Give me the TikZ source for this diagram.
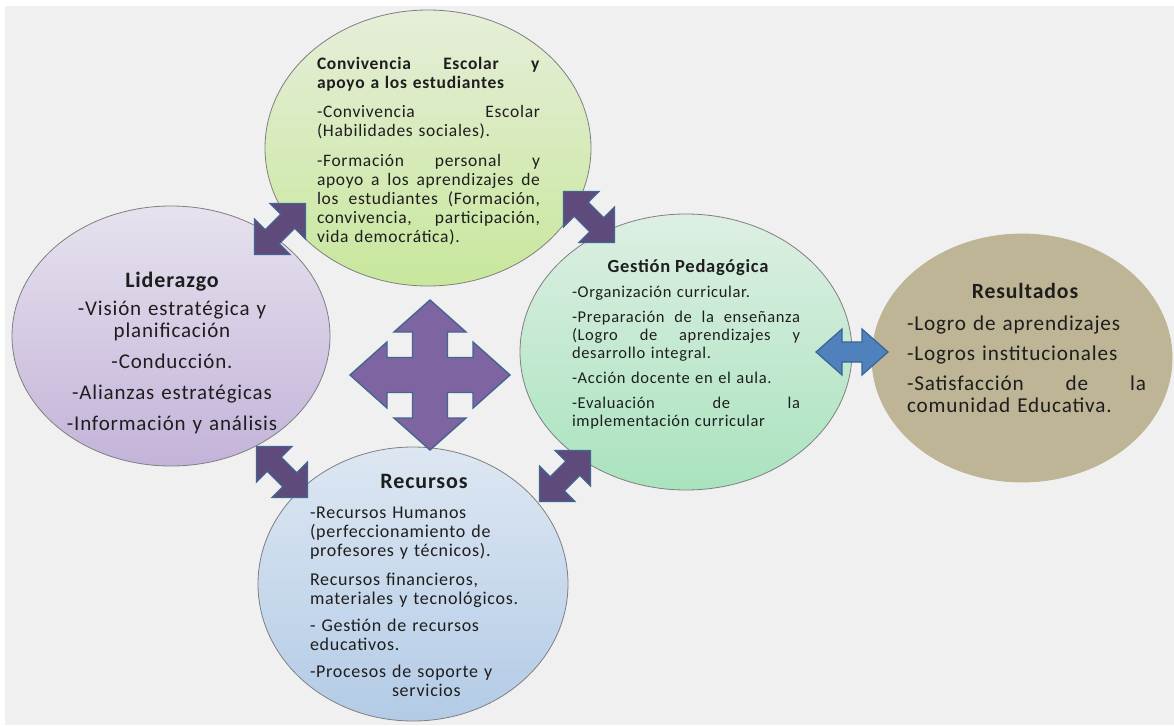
\documentclass[tikz,border=0pt]{standalone}
\usepackage{fontspec}
\setmainfont{Carlito}
\newfontfamily\wfont[LetterSpace=4]{Carlito}
\usetikzlibrary{shapes.geometric}
\definecolor{bgc}{HTML}{F0F0F0}
\definecolor{txtc}{HTML}{1E1E1E}
\definecolor{circline}{HTML}{7F7F7F}
\definecolor{convtop}{HTML}{E6EED9}
\definecolor{convbot}{HTML}{C8E79C}
\definecolor{lidtop}{HTML}{E7E2EE}
\definecolor{lidbot}{HTML}{C3B3D9}
\definecolor{gesttop}{HTML}{DDEFE3}
\definecolor{gestbot}{HTML}{A9E3BE}
\definecolor{rectop}{HTML}{DDE7F2}
\definecolor{recbot}{HTML}{B3CBE6}
\definecolor{resfill}{HTML}{BDB595}
\definecolor{crossfill}{HTML}{7E64A0}
\definecolor{diagfill}{HTML}{5F4A7C}
\definecolor{arrline}{HTML}{41668F}
\definecolor{bluefill}{HTML}{4F81BD}
\definecolor{blueline}{HTML}{3A6394}
\tikzset{
  circ/.style={ellipse, draw=circline, line width=0.8pt, inner sep=0pt, outer sep=0pt},
  txt/.style={text=txtc, inner sep=0pt, outer sep=0pt},
  titletxt/.style={txt, font=\wfont\bfseries\fontsize{#1}{#1}\selectfont},
  diagarrow/.pic={
    \filldraw[fill=diagfill, draw=arrline, line width=1.2pt, line join=miter]
      (-36,0) -- (-11,25) -- (-11,10) -- (11,10) -- (11,25) -- (36,0)
      -- (11,-25) -- (11,-10) -- (-11,-10) -- (-11,-25) -- cycle;
  }
}
\begin{document}
\begin{tikzpicture}[x=1pt,y=-1pt]
\fill[white] (0,0) rectangle (1174,725);
\useasboundingbox (0,0) rectangle (1174,725);
\fill[bgc] (5,6) rectangle (1174,725);

% circles
\node[circ, minimum width=326pt, minimum height=276pt, top color=convtop, bottom color=convbot] (conv) at (428,148) {};
\node[circ, minimum width=318pt, minimum height=260pt, top color=lidtop, bottom color=lidbot] (lid) at (171,336) {};
\node[circ, minimum width=332pt, minimum height=276pt, top color=gesttop, bottom color=gestbot] (gest) at (686,352) {};
\node[circ, minimum width=300pt, minimum height=248pt, fill=resfill, draw=resfill] (res) at (1022,358) {};
\node[circ, minimum width=310pt, minimum height=274pt, top color=rectop, bottom color=recbot] (rec) at (413,584) {};

% central four-way arrow
\filldraw[fill=crossfill, draw=arrline, line width=1.4pt, line join=miter, shift={(430,375)}]
  (0,-75) -- (36,-43) -- (17.5,-43) -- (17.5,-17.5) -- (43,-17.5) -- (43,-33) -- (80,0)
  -- (43,33) -- (43,17.5) -- (17.5,17.5) -- (17.5,43) -- (36,43) -- (0,75)
  -- (-36,43) -- (-17.5,43) -- (-17.5,17.5) -- (-43,17.5) -- (-43,33) -- (-80,0)
  -- (-43,-33) -- (-43,-17.5) -- (-17.5,-17.5) -- (-17.5,-43) -- (-36,-43) -- cycle;

% diagonal double arrows
\pic[rotate=45] at (280,229) {diagarrow};
\pic[rotate=-45] at (589,217) {diagarrow};
\pic[rotate=-45] at (282,472) {diagarrow};
\pic[rotate=45] at (565,476) {diagarrow};

% blue double arrow
\filldraw[fill=bluefill, draw=blueline, line width=1.2pt, line join=miter, shift={(852,352)}]
  (-36,0) -- (-10,-23) -- (-10,-10) -- (10,-10) -- (10,-23) -- (36,0)
  -- (10,23) -- (10,10) -- (-10,10) -- (-10,23) -- cycle;

% Convivencia text
\node[txt, anchor=base west, text width=223pt, align=left, font=\wfont\fontsize{17.5}{19}\selectfont] (convtxt) at (317,69)
{\textbf{Convivencia\hfill Escolar\hfill y}\\
 \textbf{apoyo a los estudiantes}\\[10.5pt]
 -Convivencia\hfill Escolar\\
 (Habilidades sociales).\\[10.5pt]
 -Formación\hfill personal\hfill y\\
 apoyo\hfill a\hfill los\hfill aprendizajes\hfill de\\
 los\hfill estudiantes\hfill (Formación,\\
 convivencia,\hfill participación,\\
 vida democrática).};

% Liderazgo text
\node[titletxt=22, anchor=base] (lidtitle) at (172,287) {Liderazgo};
\node[txt, anchor=base, text width=280pt, align=center, font=\wfont\fontsize{21}{22}\selectfont] (lidtxt) at (172,315)
{-Visión estratégica y\\
 planificación\\[9pt]
 -Conducción.\\[9pt]
 -Alianzas estratégicas\\[9pt]
 -Información y análisis};

% Gestion text
\node[titletxt=18.5, anchor=base] (gesttitle) at (688,272) {Gestión Pedagógica};
\node[txt, anchor=base west, text width=228pt, align=left, font=\wfont\fontsize{16.5}{18}\selectfont] (gesttxt) at (572,297)
{-Organización curricular.\\[7pt]
 -Preparación\hfill de\hfill la\hfill enseñanza\\
 (Logro\hfill de\hfill aprendizajes\hfill y\\
 desarrollo integral.\\[7pt]
 -Acción docente en el aula.\\[7pt]
 -Evaluación\hfill de\hfill la\\
 implementación curricular};

% Resultados text
\node[titletxt=21.7, anchor=base] (restitle) at (1025,298) {Resultados};
\node[txt, anchor=base west, text width=239pt, align=left, font=\wfont\fontsize{21.2}{22}\selectfont] (restxt) at (907,330)
{-Logro de aprendizajes\\[8pt]
 -Logros institucionales\\[8pt]
 -Satisfacción\hfill de\hfill la\\
 comunidad Educativa.};

% Recursos text
\node[titletxt=22, anchor=base] (rectitle) at (424,488) {Recursos};
\node[txt, anchor=base west, text width=250pt, align=left, font=\wfont\fontsize{18}{19}\selectfont] (rectxt) at (310,518)
{-Recursos Humanos\\
 (perfeccionamiento de\\
 profesores y técnicos).\\[10pt]
 Recursos financieros,\\
 materiales y tecnológicos.\\[8pt]
 - Gestión de recursos\\
 educativos.\\[8pt]
 -Procesos de soporte y\\
 \hspace*{82pt}servicios};
\end{tikzpicture}
\end{document}
